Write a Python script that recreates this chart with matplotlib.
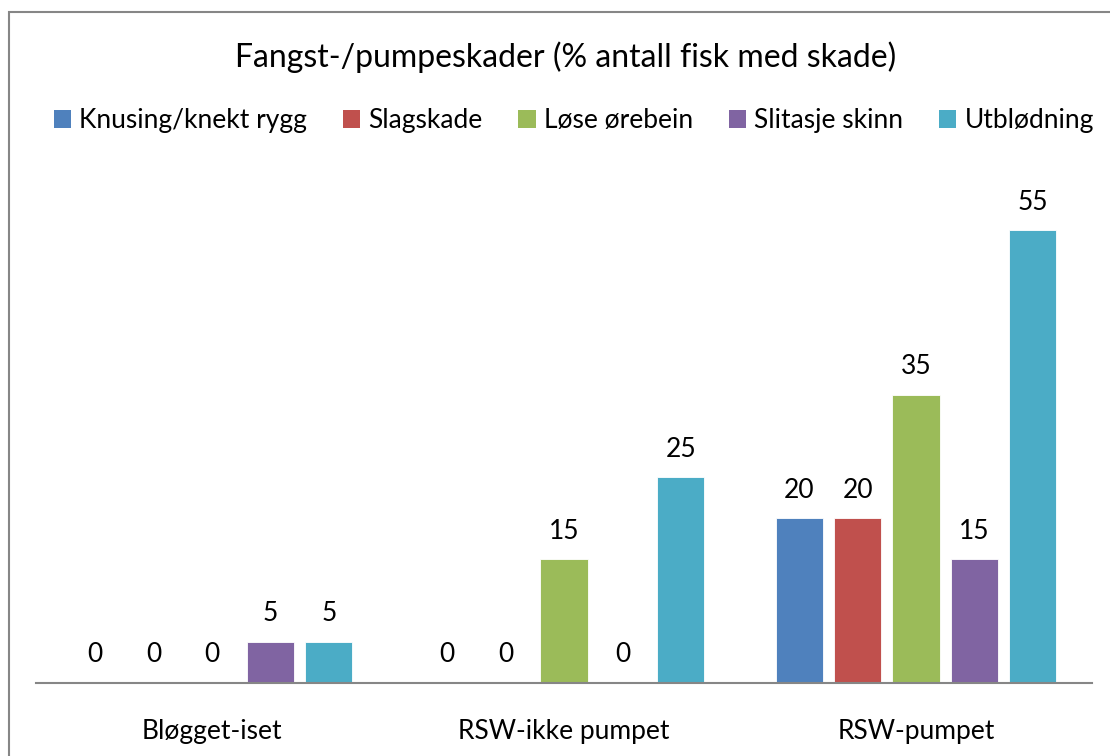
import numpy as np
import matplotlib
matplotlib.use("Agg")
import matplotlib.pyplot as plt
from matplotlib.patches import Rectangle, Patch

plt.rcParams['font.family'] = ['Lato', 'DejaVu Sans']

# data
categories = ['Bløgget-iset', 'RSW-ikke pumpet', 'RSW-pumpet']
series = ['Knusing/knekt rygg', 'Slagskade', 'Løse ørebein', 'Slitasje skinn', 'Utblødning']
knusing = [0, 0, 20]
slagskade = [0, 0, 20]
lose_orebein = [0, 15, 35]
slitasje = [5, 0, 15]
utblodning = [5, 25, 55]
values = [knusing, slagskade, lose_orebein, slitasje, utblodning]
colors = ['#4F81BD', '#C0504D', '#9BBB59', '#8064A2', '#4BACC6']

fig = plt.figure(figsize=(11.1, 7.56), dpi=100)
ax = fig.add_axes([0.0324, 0.0966, 0.9514, 0.6534])

x = np.arange(len(categories))
step = 0.166
width = 0.134
for i, (vals, c) in enumerate(zip(values, colors)):
    pos = x + (i - 2) * step
    ax.bar(pos, vals, width, color=c, edgecolor='white', linewidth=0.6, label=series[i])
    for p, v in zip(pos, vals):
        ax.text(p, v + 3.4, str(v), ha='center', va='center', fontsize=19, color='black')

ax.set_xlim(-0.5, 2.5)
ax.set_ylim(0, 60)
ax.set_yticks([])
ax.set_xticks(x)
ax.set_xticklabels(categories, fontsize=19)
ax.tick_params(axis='x', length=0, pad=26)
for s in ['top', 'right', 'left']:
    ax.spines[s].set_visible(False)
ax.spines['bottom'].set_color('#868686')
ax.spines['bottom'].set_linewidth(1.5)

fig.text(0.51, 0.925, 'Fangst-/pumpeskader (% antall fisk med skade)', ha='center', va='center', fontsize=23)

handles = [Patch(facecolor=c) for c in colors]
fig.legend(handles, series, loc='center', bbox_to_anchor=(0.517, 0.84), ncol=5, frameon=False,
           fontsize=19, handlelength=0.65, handleheight=0.65, handletextpad=0.32, columnspacing=1.35)

# chart border
fig.add_artist(Rectangle((9 / 1110, -0.1), 1.2, (756 - 12) / 756 + 0.1, transform=fig.transFigure,
                         fill=False, edgecolor='#868686', linewidth=1.5))

fig.savefig('out.png', dpi=100)
